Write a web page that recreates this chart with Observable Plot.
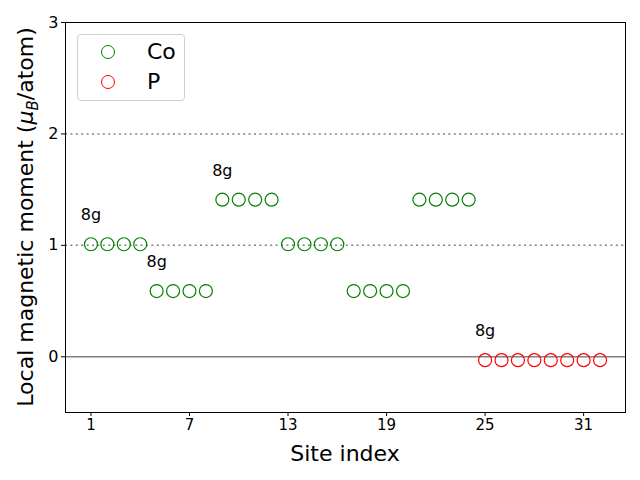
<!DOCTYPE html>
<html>
<head>
<meta charset="utf-8">
<script src="https://cdn.jsdelivr.net/npm/d3@7"></script>
<script src="https://cdn.jsdelivr.net/npm/@observablehq/plot@0.6"></script>
<style>
  body { margin: 0; background: #fff; }
  #wrap { position: relative; width: 640px; height: 480px; font-family: "DejaVu Sans", sans-serif; }
  #legend { position: absolute; left: 77px; top: 34px; width: 106px; height: 65px;
            border: 1px solid #d0d0d0; border-radius: 4px; background: rgba(255,255,255,0.8); }
  .item { position: absolute; left: 0; height: 24px; font-size: 22px; line-height: 24px; }
  .item .mk { position: absolute; left: 23px; top: 5px; width: 12px; height: 12px; border-radius: 50%; border: 1.2px solid; }
  .item .lb { position: absolute; left: 69px; top: 0; white-space: nowrap; }
</style>
</head>
<body>
<div id="wrap">
  <div id="chart"></div>
  <div id="legend"></div>
</div>
<script>
// Data
const coSites   = [1,2,3,4,5,6,7,8,9,10,11,12,13,14,15,16,17,18,19,20,21,22,23,24];
const coMoments = [1.01,1.01,1.01,1.01, 0.59,0.59,0.59,0.59, 1.41,1.41,1.41,1.41,
                   1.01,1.01,1.01,1.01, 0.59,0.59,0.59,0.59, 1.41,1.41,1.41,1.41];
const pSites    = [25,26,27,28,29,30,31,32];
const pMoments  = [-0.03,-0.03,-0.03,-0.03,-0.03,-0.03,-0.03,-0.03];
const labelSites   = [1, 5, 9, 25];
const labelMoments = [1.01, 0.59, 1.41, -0.03];
const labelTexts   = ["8g", "8g", "8g", "8g"];
const xTicks = [1, 7, 13, 19, 25, 31];
const yTicks = [0, 1, 2, 3];
const seriesNames  = ["Co", "P"];
const seriesColors = ["green", "red"];

const co = coSites.map((s, i) => ({site: s, m: coMoments[i]}));
const p  = pSites.map((s, i) => ({site: s, m: pMoments[i]}));
const labels = labelSites.map((s, i) => ({site: s, m: labelMoments[i], t: labelTexts[i]}));

const chart = Plot.plot({
  width: 640,
  height: 480,
  marginLeft: 65,
  marginRight: 15,
  marginTop: 22,
  marginBottom: 68,
  style: {fontFamily: "DejaVu Sans", background: "white", color: "black"},
  x: {domain: [-0.55, 33.55]},
  y: {domain: [-0.5, 3]},
  marks: [
    Plot.ruleY([1, 2], {stroke: "gray", strokeWidth: 1.5, strokeDasharray: "2,3.4"}),
    Plot.ruleY([0], {stroke: "gray", strokeWidth: 1.5}),
    Plot.dot(co, {x: "site", y: "m", r: 6.5, stroke: seriesColors[0], fill: "none", strokeWidth: 1.2}),
    Plot.dot(p,  {x: "site", y: "m", r: 6.5, stroke: seriesColors[1], fill: "none", strokeWidth: 1.2}),
    Plot.text(labels, {x: "site", y: "m", text: "t", dy: -29, fontSize: 16, fill: "black"}),
    Plot.frame({stroke: "black", strokeWidth: 1}),
    Plot.axisX({ticks: xTicks, tickFormat: d => String(d), tickSize: 4, fontSize: 15, tickPadding: 3, label: null}),
    Plot.axisY({ticks: yTicks, tickFormat: d => String(d), tickSize: 4, fontSize: 16, tickPadding: 3, label: null})
  ]
});
document.getElementById("chart").appendChild(chart);

const svg = d3.select(chart);
svg.append("text")
  .attr("x", 345).attr("y", 461)
  .attr("text-anchor", "middle")
  .attr("font-size", 22).attr("font-family", "DejaVu Sans").attr("fill", "black")
  .text("Site index");

const yl = svg.append("text")
  .attr("transform", "translate(33,217) rotate(-90)")
  .attr("text-anchor", "middle")
  .attr("font-size", 22).attr("font-family", "DejaVu Sans").attr("fill", "black");
yl.append("tspan").text("Local magnetic moment (");
yl.append("tspan").attr("font-style", "italic").text("μ");
yl.append("tspan").attr("font-style", "italic").attr("font-size", 15).attr("dy", 5).text("B");
yl.append("tspan").attr("dy", -5).text("/atom)");

const legend = document.getElementById("legend");
seriesNames.forEach((name, i) => {
  const it = document.createElement("div");
  it.className = "item";
  it.style.top = (5 + i * 30) + "px";
  it.innerHTML = `<span class="mk" style="border-color:${seriesColors[i]}"></span><span class="lb">${name}</span>`;
  legend.appendChild(it);
});
</script>
</body>
</html>
